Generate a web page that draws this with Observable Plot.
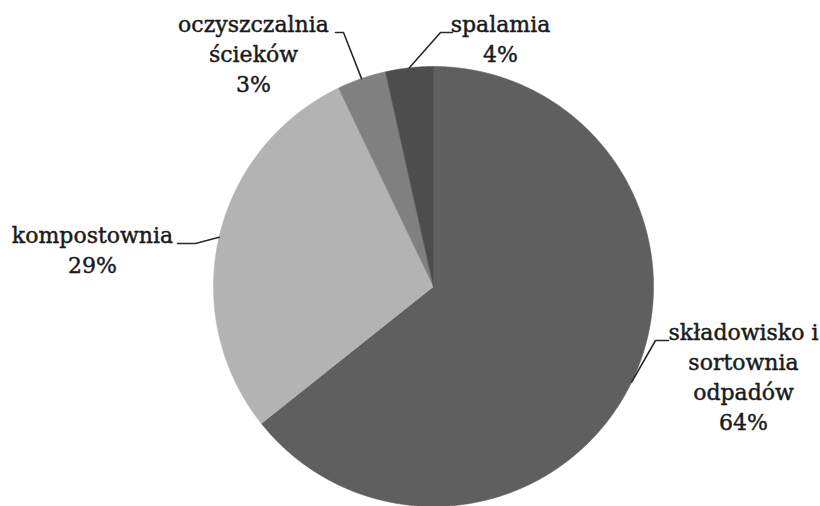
<!DOCTYPE html>
<html><head><meta charset="utf-8">
<script src="https://cdn.jsdelivr.net/npm/d3@7"></script>
<script src="https://cdn.jsdelivr.net/npm/@observablehq/plot@0.6"></script>
<style>body{margin:0;background:#fff}</style>
</head><body><div id="chart"></div>
<script>
// Data
const categories = ["składowisko i sortownia odpadów", "kompostownia", "oczyszczalnia ścieków", "spalamia"];
const values = [64.3, 28.6, 3.6, 3.5];
const labelTexts = ["składowisko i\nsortownia\nodpadów\n64%", "kompostownia\n29%", "oczyszczalnia\nścieków\n3%", "spalamia\n4%"];
const colors = ["#5f5f5f", "#b3b3b3", "#808080", "#4d4d4d"];

// Layout
const W = 820, H = 506, cx = 433, cy = 286, R = 220;
const fontSize = 22, lineH = 30;
const labelLayout = [
  {x: 743, base: 340, elbow: [655, 340], end: [668, 340]},
  {x: 92, base: 243, elbow: [195, 243], end: [177, 243]},
  {x: 253, base: 32, elbow: [343, 32], end: [335, 32]},
  {x: 500, base: 32, elbow: [440, 32], end: [452, 32]}
];

const arcs = d3.pie().sort(null).value(d => d)(values);
const sectors = arcs.map((a, i) => {
  const pts = [{x: cx, y: cy}];
  const n = Math.ceil((a.endAngle - a.startAngle) / 0.004);
  for (let k = 0; k <= n; ++k) {
    const t = a.startAngle + (a.endAngle - a.startAngle) * k / n;
    pts.push({x: cx + R * Math.sin(t), y: cy - R * Math.cos(t)});
  }
  pts.push({x: cx, y: cy});
  return pts;
});

const leaders = arcs.flatMap((a, i) => {
  const m = (a.startAngle + a.endAngle) / 2;
  const L = labelLayout[i];
  return [
    {i, x: cx + R * Math.sin(m), y: cy - R * Math.cos(m)},
    {i, x: L.elbow[0], y: L.elbow[1]},
    {i, x: L.end[0], y: L.end[1]}
  ];
});

const labels = labelTexts.map((t, i) => ({
  text: t,
  x: labelLayout[i].x,
  y: labelLayout[i].base - 0.71 * lineH
}));

const chart = Plot.plot({
  width: W, height: H,
  margin: 0,
  x: {domain: [0, W], range: [0, W], axis: null},
  y: {domain: [0, H], range: [0, H], axis: null},
  marks: [
    ...sectors.map((pts, i) => Plot.line(pts, {x: "x", y: "y", fill: colors[i], stroke: colors[i], strokeWidth: 0.6})),
    Plot.line(leaders, {x: "x", y: "y", z: "i", stroke: "#2a2a2a", strokeWidth: 1.6}),
    Plot.text(labels, {
      x: "x", y: "y", text: "text",
      fontSize, fontFamily: "DejaVu Serif",
      lineHeight: lineH / fontSize, lineAnchor: "top", textAnchor: "middle",
      fill: "#1a1a1a", stroke: "#1a1a1a", strokeWidth: 0.45
    })
  ]
});
document.getElementById("chart").append(chart);
</script>
</body></html>
